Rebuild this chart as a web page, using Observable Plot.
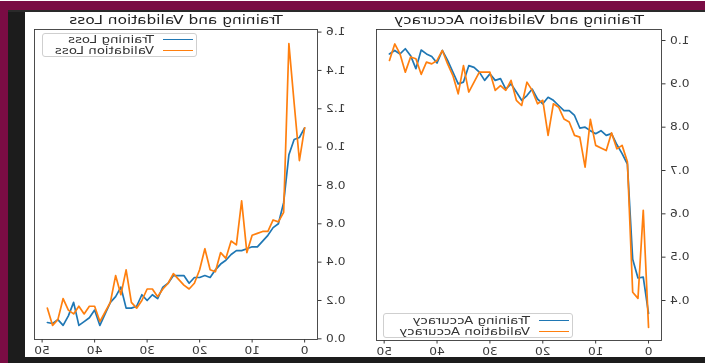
<!DOCTYPE html>
<html><head><meta charset="utf-8">
<script src="https://cdn.jsdelivr.net/npm/d3@7"></script>
<script src="https://cdn.jsdelivr.net/npm/@observablehq/plot@0.6"></script>
<style>
html,body{margin:0;padding:0;background:#fff;}
#stage{position:relative;width:705px;height:363px;overflow:hidden;background:#fff;transform:scaleX(-1);font-family:"DejaVu Sans",sans-serif;filter:blur(0.4px);}
.band{position:absolute;}
.chart{position:absolute;top:0;}
.legend{position:absolute;border:1px solid #cfcfcf;border-radius:3px;background:#fff;box-sizing:border-box;}
.legend .row{position:absolute;left:0;right:0;height:12px;}
.legend .swatch{position:absolute;width:30px;top:5px;height:0;border-top:1.7px solid;}
.legend .lab{position:absolute;top:0;font-size:10px;line-height:12px;color:#333;white-space:nowrap;display:inline-block;transform:scaleX(1.33);transform-origin:left center;}
</style></head>
<body>
<div id="stage">
  <div class="band" style="left:0;top:1px;width:705px;height:9px;background:#7a0c44"></div>
  <div class="band" style="left:0;top:10px;width:705px;height:2px;background:#2a2a2a"></div>
  <div class="band" style="left:697px;top:1px;width:8px;height:362px;background:#7a0c44"></div>
  <div class="band" style="left:680px;top:12px;width:17px;height:351px;background:#1c1c1c"></div>
  <div class="band" style="left:0;top:357px;width:697px;height:6px;background:#1c1c1c"></div>
  <div id="acc" class="chart" style="left:0"></div>
  <div id="loss" class="chart" style="left:350px"></div>
</div>
<script>
const epochs = [0,1,2,3,4,5,6,7,8,9,10,11,12,13,14,15,16,17,18,19,20,21,22,23,24,25,26,27,28,29,30,31,32,33,34,35,36,37,38,39,40,41,42,43,44,45,46,47,48,49];
const trainAcc = [0.37,0.454,0.452,0.495,0.715,0.739,0.76,0.785,0.781,0.792,0.785,0.792,0.80,0.798,0.827,0.838,0.838,0.85,0.862,0.869,0.854,0.865,0.888,0.873,0.862,0.881,0.90,0.888,0.912,0.908,0.923,0.908,0.927,0.938,0.942,0.904,0.90,0.927,0.954,0.977,0.948,0.963,0.969,0.978,0.935,0.965,0.981,0.969,0.977,0.969];
const valAcc = [0.338,0.608,0.405,0.419,0.72,0.758,0.75,0.787,0.746,0.752,0.758,0.818,0.708,0.777,0.781,0.812,0.819,0.846,0.854,0.781,0.862,0.854,0.885,0.904,0.85,0.862,0.908,0.885,0.896,0.885,0.927,0.927,0.927,0.904,0.881,0.942,0.877,0.919,0.946,0.977,0.954,0.946,0.95,0.922,0.958,0.962,0.927,0.969,0.992,0.954];
const trainLoss = [1.10,1.05,1.04,0.96,0.71,0.60,0.58,0.54,0.51,0.48,0.48,0.47,0.46,0.46,0.44,0.41,0.39,0.36,0.32,0.33,0.32,0.32,0.29,0.33,0.33,0.33,0.29,0.27,0.21,0.23,0.20,0.23,0.17,0.16,0.16,0.27,0.22,0.19,0.13,0.07,0.15,0.11,0.09,0.07,0.19,0.12,0.07,0.10,0.08,0.085];
const valLoss = [1.10,0.93,1.23,1.54,0.66,0.61,0.62,0.56,0.56,0.55,0.54,0.45,0.72,0.49,0.51,0.42,0.45,0.35,0.36,0.47,0.36,0.29,0.26,0.28,0.31,0.34,0.29,0.26,0.22,0.26,0.26,0.20,0.16,0.19,0.36,0.23,0.33,0.19,0.14,0.09,0.17,0.17,0.13,0.17,0.13,0.15,0.21,0.10,0.07,0.16];
const xTicks = [0,10,20,30,40,50];
const accTicks = [0.4,0.5,0.6,0.7,0.8,0.9,1.0];
const lossTicks = [0.0,0.2,0.4,0.6,0.8,1.0,1.2,1.4,1.6];
const accTitle = "Training and Validation Accuracy";
const lossTitle = "Training and Validation Loss";
const accLabels = ["Training Accuracy","Validation Accuracy"];
const lossLabels = ["Training Loss","Validation Loss"];
const colors = ["#1f77b4","#ff7f0e"];

const accRows = epochs.map((e,i)=>({epoch:e, train:trainAcc[i], val:valAcc[i]}));
const lossRows = epochs.map((e,i)=>({epoch:e, train:trainLoss[i], val:valLoss[i]}));
const TICK_STRETCH = 1.22, TITLE_STRETCH = 1.28;

function panel(rows, title, ticks, domain, opts){
  return Plot.plot({
    width: opts.width, height: 363,
    marginLeft: opts.ml, marginRight: opts.mr, marginTop: 29, marginBottom: opts.mb,
    style: {fontFamily: "DejaVu Sans", fontSize: "10px", color: "#3a3a3a", background: "transparent", overflow: "visible"},
    x: {domain: [-2.45, 51.45], ticks: xTicks, tickSize: 3.5, tickPadding: 3.5, tickFormat: d => String(d), label: null},
    y: {domain, ticks, tickSize: 3.5, tickPadding: 5, tickFormat: d3.format(".1f"), label: null},
    marks: [
      Plot.line(rows, {x: "epoch", y: "train", stroke: colors[0], strokeWidth: 1.7}),
      Plot.line(rows, {x: "epoch", y: "val", stroke: colors[1], strokeWidth: 1.7}),
      Plot.frame({stroke: "#3a3a3a", strokeWidth: 0.9}),
      Plot.text([title], {frameAnchor: "top", dy: -9, lineAnchor: "middle", text: d => d, fontSize: 12, fill: "#222", className: "ttl"})
    ]
  });
}

function stretchText(svg){
  svg.querySelectorAll("text").forEach(t => {
    const isTitle = !!t.closest(".ttl");
    const s = isTitle ? TITLE_STRETCH : TICK_STRETCH;
    const x = +(t.getAttribute("x") || 0);
    t.setAttribute("x", 0);
    const tr = t.getAttribute("transform") || "";
    t.setAttribute("transform", `${tr} translate(${x},0) scale(${s},1)`);
  });
}

const accSvg = panel(accRows, accTitle, accTicks, [0.3077, 1.0254], {width: 350, ml: 43, mr: 22, mb: 23});
const lossSvg = panel(lossRows, lossTitle, lossTicks, [-0.0035, 1.6135], {width: 355, ml: 37, mr: 35, mb: 24});
stretchText(accSvg); stretchText(lossSvg);
document.getElementById("acc").appendChild(accSvg);
document.getElementById("loss").appendChild(lossSvg);

function legend(container, left, top, width, height, labels, rowTops){
  const box = document.createElement("div");
  box.className = "legend";
  Object.assign(box.style, {left: left+"px", top: top+"px", width: width+"px", height: height+"px"});
  labels.forEach((lab, i) => {
    const row = document.createElement("div");
    row.className = "row";
    row.style.top = rowTops[i] + "px";
    const sw = document.createElement("div");
    sw.className = "swatch";
    sw.style.left = "3px";
    sw.style.borderTopColor = colors[i];
    const tx = document.createElement("span");
    tx.className = "lab";
    tx.style.left = "42px";
    tx.textContent = lab;
    row.appendChild(sw); row.appendChild(tx);
    box.appendChild(row);
  });
  container.appendChild(box);
}
const stage = document.getElementById("stage");
legend(stage, 508, 33, 155, 24, lossLabels, [0, 11]);
legend(stage, 132, 313, 190, 25, accLabels, [1, 12]);
</script>
</body></html>
